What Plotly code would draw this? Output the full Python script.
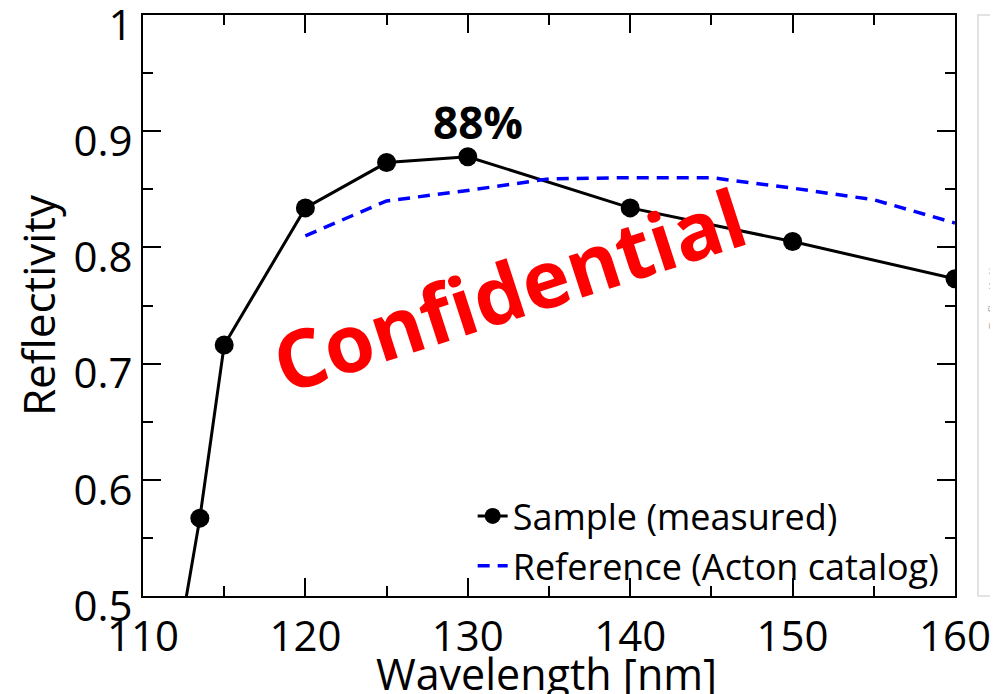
import plotly.graph_objects as go

# measured sample reflectivity (first point sits below 0.5, it only carries the line off-axis)
sample_wl = [112, 113.5, 115, 120, 125, 130, 140, 150, 160]
sample_r = [0.445, 0.567, 0.716, 0.834, 0.873, 0.878, 0.834, 0.805, 0.773]

# reference curve from the Acton catalog
ref_wl = [120, 125, 130, 135, 140, 145, 150, 155, 160]
ref_r = [0.810, 0.840, 0.849, 0.859, 0.860, 0.860, 0.851, 0.841, 0.821]

FONT = "Open Sans"

fig = go.Figure()

fig.add_trace(go.Scatter(
    x=sample_wl, y=sample_r, mode="lines+markers",
    name="Sample (measured)",
    line=dict(color="black", width=3),
    marker=dict(color="black", size=19),
))

fig.add_trace(go.Scatter(
    x=ref_wl, y=ref_r, mode="lines",
    name="Reference (Acton catalog)",
    line=dict(color="#0000ff", width=3.5, dash="12px,8px"),
))

fig.add_annotation(x=130.6, y=0.908, text="<b>88%</b>", showarrow=False,
                   font=dict(family=FONT, size=44, color="black"))
fig.add_annotation(x=132.5, y=0.765, text="<b>Confidential</b>", showarrow=False,
                   textangle=-18, font=dict(family=FONT, size=80, color="#ff0000"))

# x title as an annotation so it can run off the bottom edge like the original
fig.add_annotation(xref="paper", yref="paper", x=0.497, y=-0.079,
                   xanchor="center", yanchor="top", showarrow=False,
                   text="Wavelength [nm]", font=dict(family=FONT, size=43, color="black"))

# edge of the neighbouring panel on the right
fig.add_shape(type="rect", xref="paper", yref="paper",
              x0=1.0283, x1=1.08, y0=0.0, y1=1.0,
              line=dict(color="#dadada", width=1.5), layer="below")
fig.add_annotation(xref="paper", yref="paper", x=1.062, y=0.52,
                   text="Reflectivity", textangle=-90, showarrow=False,
                   font=dict(family=FONT, size=14, color="#b0b0b0"))

axis_common = dict(
    showline=True, linecolor="black", linewidth=2,
    mirror="ticks", ticks="inside", ticklen=18, tickwidth=2, tickcolor="black",
    showgrid=False, zeroline=False, ticklabeloverflow="allow", automargin=False,
    tickfont=dict(family=FONT, size=42, color="black"),
)

fig.update_xaxes(
    range=[110, 160], dtick=10, tick0=110,
    minor=dict(dtick=5, ticks="inside", ticklen=10, tickwidth=2, tickcolor="black"),
    ticklabelstandoff=3,
    **axis_common,
)
fig.update_yaxes(
    range=[0.5, 1.0],
    tickvals=[0.5, 0.6, 0.7, 0.8, 0.9, 1.0],
    ticktext=["0.5", "0.6", "0.7", "0.8", "0.9", "1"],
    minor=dict(dtick=0.05, ticks="inside", ticklen=10, tickwidth=2, tickcolor="black"),
    ticklabelshift=10,
    title=dict(text="Reflectivity", font=dict(family=FONT, size=44, color="black"),
               standoff=10),
    **axis_common,
)

# the page body adds an 8px offset, so the figure is 8px smaller and margins compensate
fig.update_layout(
    width=990, height=686,
    margin=dict(l=135, r=43, t=7, b=98),
    plot_bgcolor="white", paper_bgcolor="white",
    showlegend=True,
    legend=dict(x=0.406, y=0.0, xanchor="left", yanchor="bottom",
                bgcolor="rgba(0,0,0,0)", font=dict(family=FONT, size=36, color="black"),
                tracegroupgap=0),
)

fig.write_html("out.html")
